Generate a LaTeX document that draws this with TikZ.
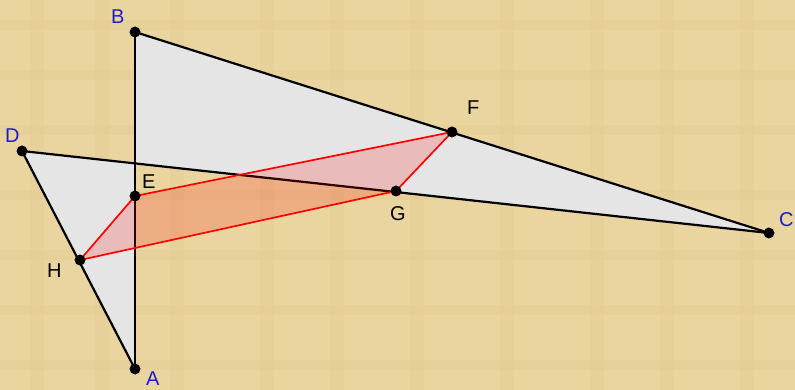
\documentclass[tikz,border=0pt]{standalone}
\usepackage{fontspec}
\setmainfont{Liberation Sans}
\definecolor{parch}{RGB}{234,213,160}
\definecolor{parchdark}{RGB}{220,196,136}
\definecolor{lbl}{RGB}{30,30,200}
\definecolor{polyfill}{RGB}{229,229,229}
\tikzset{
  pt/.style={circle,fill=black,inner sep=0pt,minimum size=11pt},
  blab/.style={text=lbl,font=\fontsize{20}{20}\selectfont,inner sep=0pt},
  klab/.style={text=black,font=\fontsize{20}{20}\selectfont,inner sep=0pt},
  side/.style={draw=black,line width=2.2pt},
  par/.style={draw=red,line width=1.7pt,line join=round}
}
\begin{document}
\begin{tikzpicture}[x=1pt,y=-1pt]
\fill[parch] (0,0) rectangle (795,390);
\useasboundingbox (0,0) rectangle (795,390);
% faint texture
\foreach \x in {30,95,170,260,330,410,500,590,660,740}{
  \fill[parchdark,opacity=0.2] (\x,0) rectangle (\x+14,390);
}
\foreach \y in {20,70,125,190,250,305,360}{
  \fill[parchdark,opacity=0.18] (0,\y) rectangle (795,\y+10);
}
\coordinate (A) at (135,369);
\coordinate (B) at (135,32);
\coordinate (C) at (769,233);
\coordinate (D) at (22,151);
\coordinate (E) at (135,196);
\coordinate (F) at (452,132);
\coordinate (G) at (396,191);
\coordinate (H) at (80,260);
% crossed quadrilateral
\fill[polyfill] (A) -- (B) -- (C) -- (D) -- cycle;
\draw[side] (A) -- (B);
\draw[side] (B) -- (C);
\draw[side] (C) -- (D);
\draw[side] (D) -- (A);
% parallelogram
\fill[red,opacity=0.18] (E) -- (F) -- (G) -- (H) -- cycle;
\draw[par] (E) -- (F) -- (G) -- (H) -- cycle;
% points
\foreach \p in {A,B,C,D,E,F,G,H}{ \node[pt] (p\p) at (\p) {}; }
% labels
\node[blab,anchor=base west] (lB) at (111,24) {B};
\node[blab,anchor=base west] (lD) at (5,143) {D};
\node[blab,anchor=base west] (lA) at (146,385) {A};
\node[blab,anchor=base west] (lC) at (779,226) {C};
\node[klab,anchor=base west] (lE) at (142,189) {E};
\node[klab,anchor=base west] (lF) at (467,115) {F};
\node[klab,anchor=base west] (lG) at (390,221) {G};
\node[klab,anchor=base west] (lH) at (47,277) {H};
\end{tikzpicture}
\end{document}
